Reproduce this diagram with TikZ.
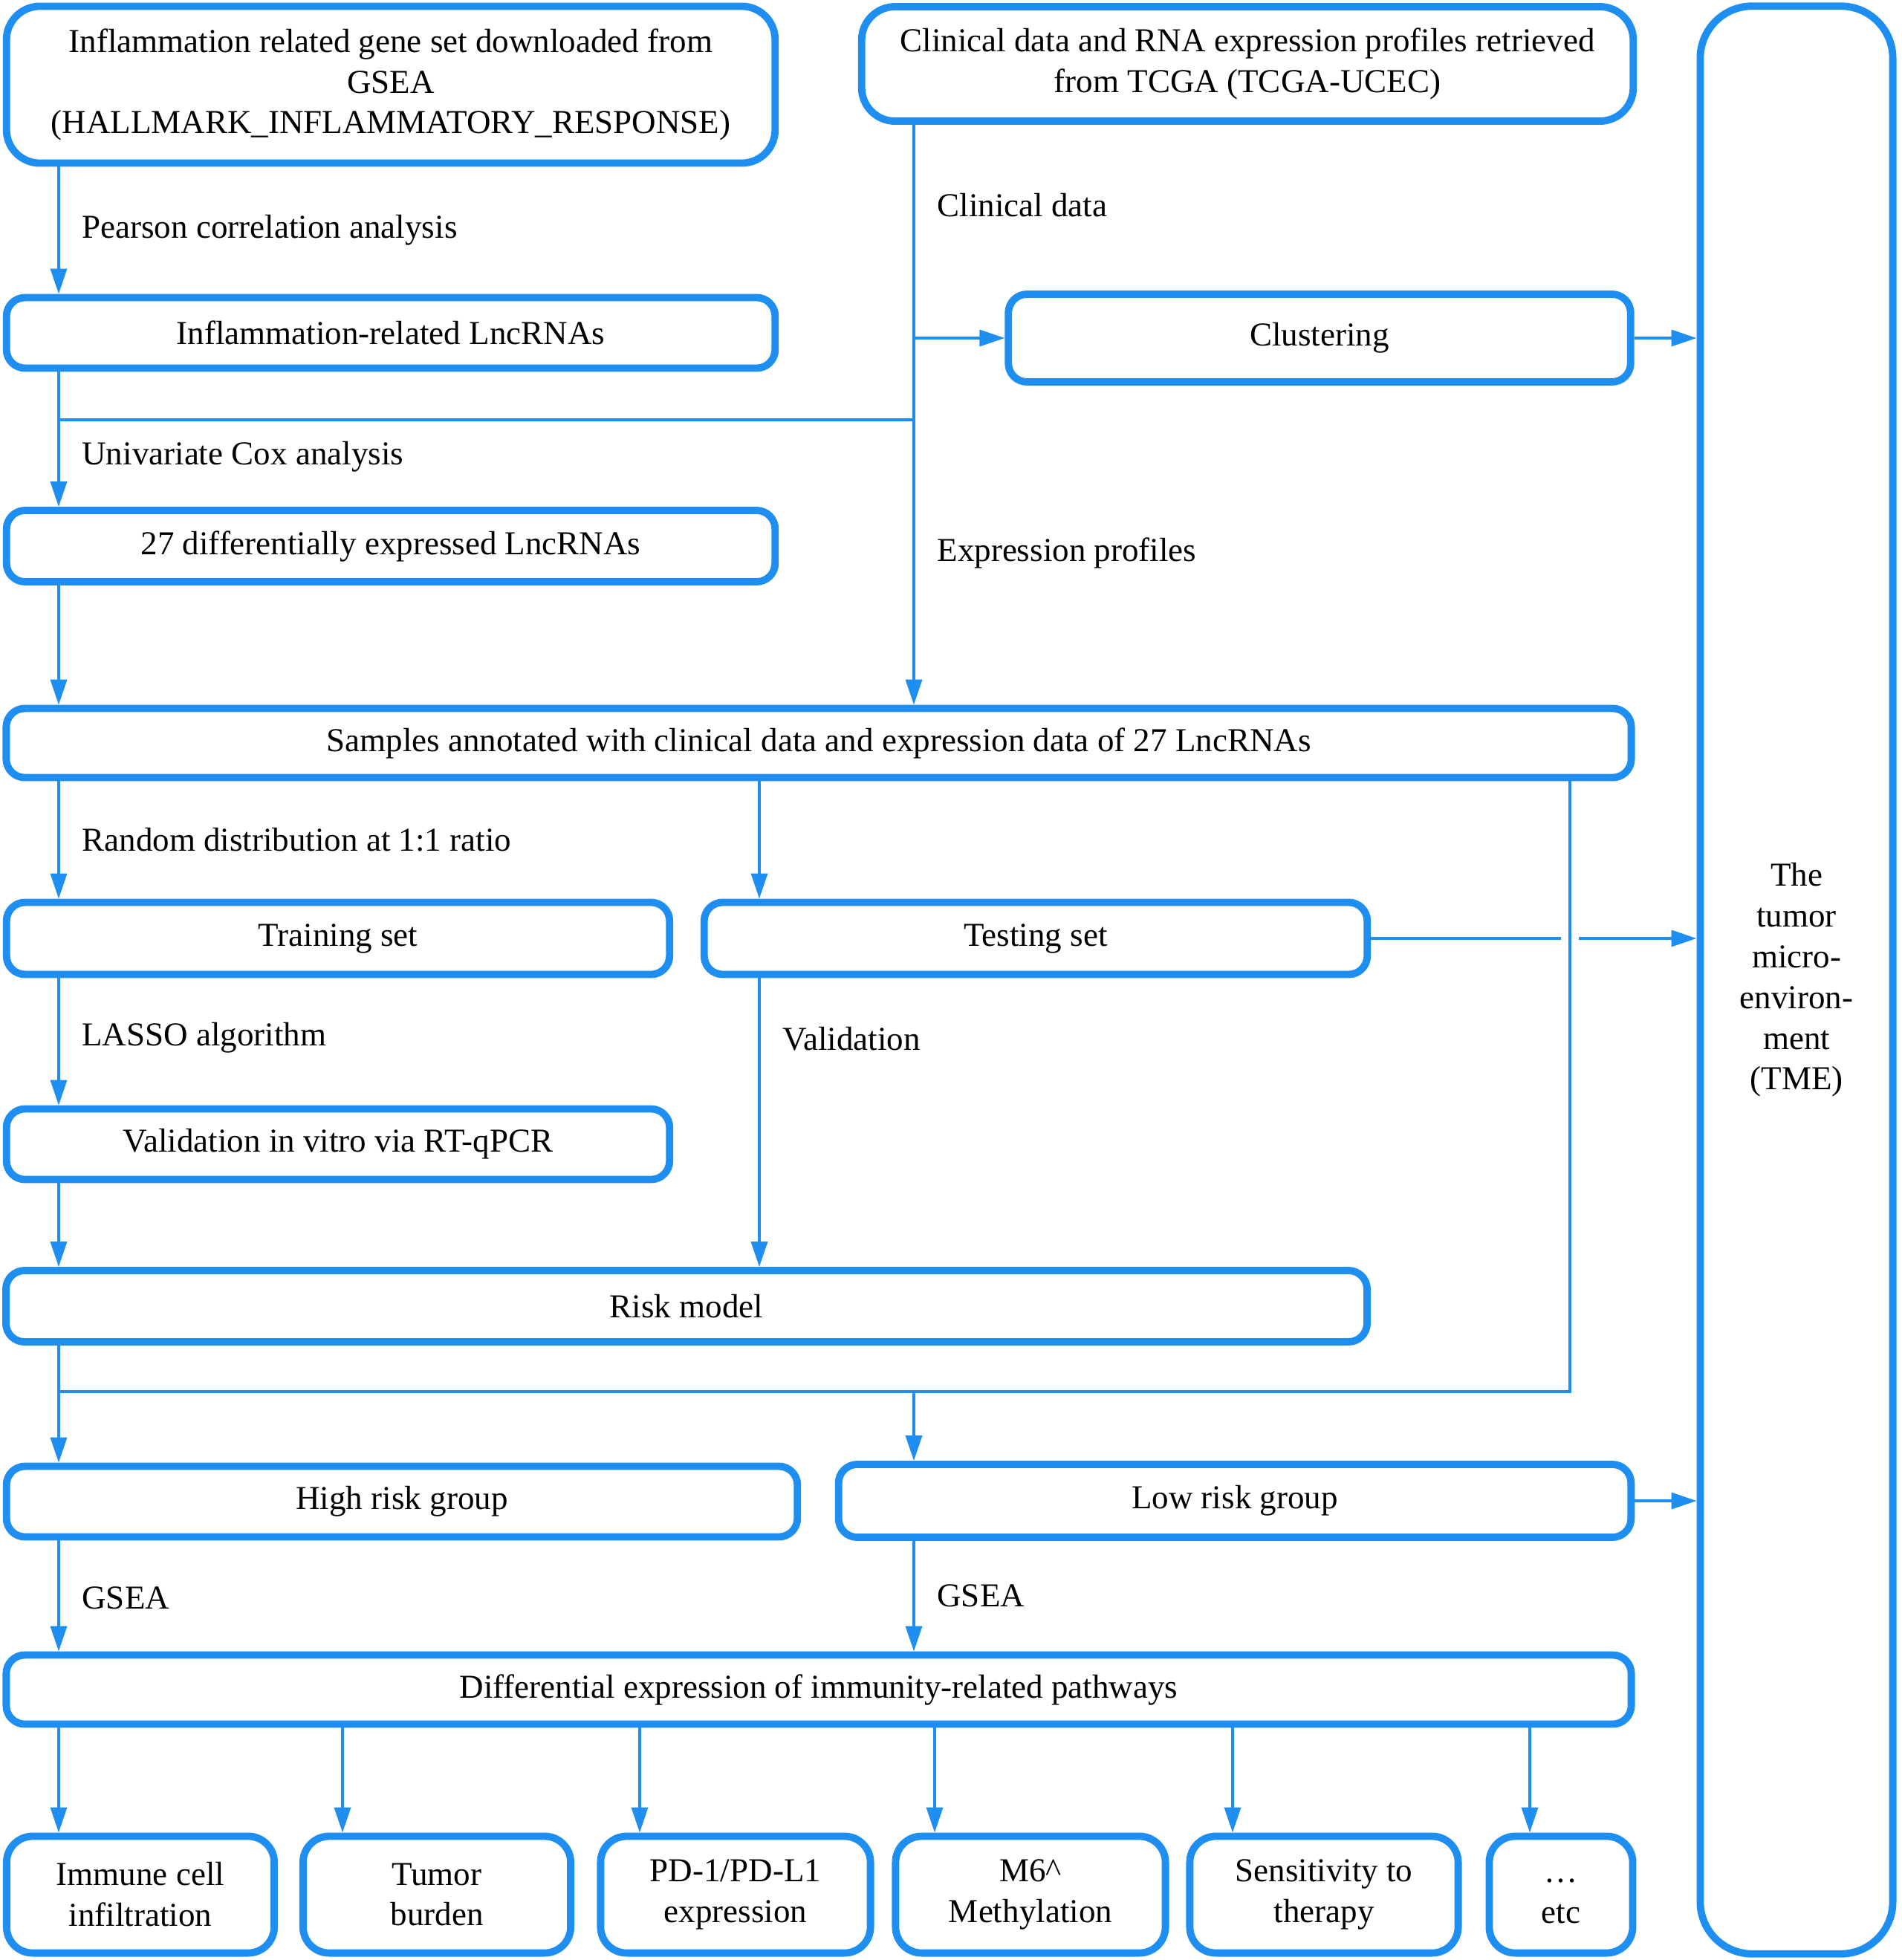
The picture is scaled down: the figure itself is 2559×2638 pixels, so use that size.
\documentclass[tikz,border=0pt]{standalone}
\usepackage{fontspec}
\setmainfont{Liberation Serif}
\usetikzlibrary{positioning,arrows.meta}
\definecolor{flowblue}{RGB}{30,142,240}

\begin{document}
\begin{tikzpicture}[
    x=0.01cm, y=-0.01cm,
    font=\fontsize{12.8}{15.6}\selectfont,
    box/.style={draw=flowblue, line width=2.8pt, rounded corners=0.25cm, align=center, fill=white, inner sep=2pt},
    leaf/.style={box, rounded corners=0.35cm, minimum height=1.57cm},
    line/.style={draw=flowblue, line width=1pt},
    arrow/.style={line, -{Triangle[length=0.34cm, width=0.22cm]}},
    lbl/.style={right=0.18cm}
]
\useasboundingbox (0,0) rectangle (2559,2638);

% Nodes
\node[box, rounded corners=0.45cm, minimum width=10.34cm, minimum height=2.11cm] (gset) at (526,114) {Inflammation related gene set downloaded from\\GSEA\\(HALLMARK\_INFLAMMATORY\_RESPONSE)};
\node[box, rounded corners=0.45cm, minimum width=10.38cm, minimum height=1.54cm] (tcga) at (1679,86) {Clinical data and RNA expression profiles retrieved\\from TCGA (TCGA-UCEC)};
\node[box, rounded corners=0.7cm, minimum width=2.59cm, minimum height=26.2cm] (tme) at (2418,1319) {The\\tumor\\micro-\\environ-\\ment\\(TME)};
\node[box, minimum width=10.34cm, minimum height=0.95cm] (lnc) at (526,448) {Inflammation-related LncRNAs};
\node[box, minimum width=8.37cm, minimum height=1.18cm] (clust) at (1776,455) {Clustering};
\node[box, minimum width=10.34cm, minimum height=0.96cm] (degs) at (526,735) {27 differentially expressed LncRNAs};
\node[box, minimum width=21.86cm, minimum height=0.93cm] (samples) at (1102,1000) {Samples annotated with clinical data and expression data of 27 LncRNAs};
\node[box, minimum width=8.92cm, minimum height=0.97cm] (train) at (455,1263) {Training set};
\node[box, minimum width=8.92cm, minimum height=0.97cm] (test) at (1394,1263) {Testing set};
\node[box, minimum width=8.92cm, minimum height=0.95cm] (vitro) at (455,1540) {Validation in vitro via RT-qPCR};
\node[box, minimum width=18.31cm, minimum height=0.96cm] (risk) at (924,1758) {Risk model};
\node[box, minimum width=10.64cm, minimum height=0.95cm] (high) at (541,2021) {High risk group};
\node[box, minimum width=10.66cm, minimum height=0.98cm] (low) at (1662,2020) {Low risk group};
\node[box, minimum width=21.86cm, minimum height=0.93cm] (pathw) at (1102,2274) {Differential expression of immunity-related pathways};
\node[leaf, minimum width=3.60cm] (immune) at (189,2550) {Immune cell\\infiltration};
\node[leaf, minimum width=3.60cm] (burden) at (588,2550) {Tumor\\burden};
\node[leaf, minimum width=3.63cm] (pdl1) at (990,2550) {PD-1/PD-L1\\expression};
\node[leaf, minimum width=3.63cm] (m6a) at (1387,2550) {M6\textasciicircum\\Methylation};
\node[leaf, minimum width=3.61cm] (therapy) at (1782,2550) {Sensitivity to\\therapy};
\node[leaf, minimum width=1.93cm] (etc) at (2101,2550) {\strut\ldots\\etc\strut};

% Columns and junctions
\coordinate (lx) at (79,0);
\coordinate (mx) at (1230,0);
\coordinate (tx) at (1022,0);
\coordinate (rx) at (2113,0);
\coordinate (cox) at (79,565);
\coordinate (split) at (79,1873);

% Arrows
\draw[arrow] (gset.south -| lx) -- node[lbl, pos=0.5] {Pearson correlation analysis} (lnc.north -| lx);
\draw[arrow] (lnc.south -| lx) -- node[lbl, pos=0.63] {Univariate Cox analysis} (degs.north -| lx);
\draw[line] (cox) -- (cox -| mx);
\draw[arrow] (tcga.south -| mx) -- node[lbl, pos=0.138] {Clinical data} node[lbl, pos=0.738] {Expression profiles} (samples.north -| mx);
\draw[arrow] (clust.west -| mx) -- (clust.west);
\draw[arrow] (clust.east) -- (clust.east -| tme.west);
\draw[arrow] (degs.south -| lx) -- (samples.north -| lx);
\draw[arrow] (samples.south -| lx) -- node[lbl, pos=0.5] {Random distribution at 1:1 ratio} (train.north -| lx);
\draw[arrow] (samples.south -| tx) -- (test.north -| tx);
\draw[line] (samples.south -| rx) -- (split -| rx) -- (split);
\draw[line] (test.east) -- ([xshift=-0.12cm]test.east -| rx);
\draw[arrow] ([xshift=0.12cm]test.east -| rx) -- (test.east -| tme.west);
\draw[arrow] (train.south -| lx) -- node[lbl, pos=0.47] {LASSO algorithm} (vitro.north -| lx);
\draw[arrow] (test.south -| tx) -- node[lbl, pos=0.21] {Validation} (risk.north -| tx);
\draw[arrow] (vitro.south -| lx) -- (risk.north -| lx);
\draw[arrow] (risk.south -| lx) -- (high.north -| lx);
\draw[arrow] (split -| mx) -- (low.north -| mx);
\draw[arrow] (high.south -| lx) -- node[lbl, pos=0.52] {GSEA} (pathw.north -| lx);
\draw[arrow] (low.south -| mx) -- node[lbl, pos=0.5] {GSEA} (pathw.north -| mx);
\draw[arrow] (low.east) -- (low.east -| tme.west);
\foreach \leafname/\ax in {immune/79, burden/461, pdl1/861, m6a/1258, therapy/1659, etc/2059} {
  \path (\ax,0) coordinate (ax);
  \draw[arrow] (pathw.south -| ax) -- (\leafname.north -| ax);
}

\end{tikzpicture}
\end{document}
